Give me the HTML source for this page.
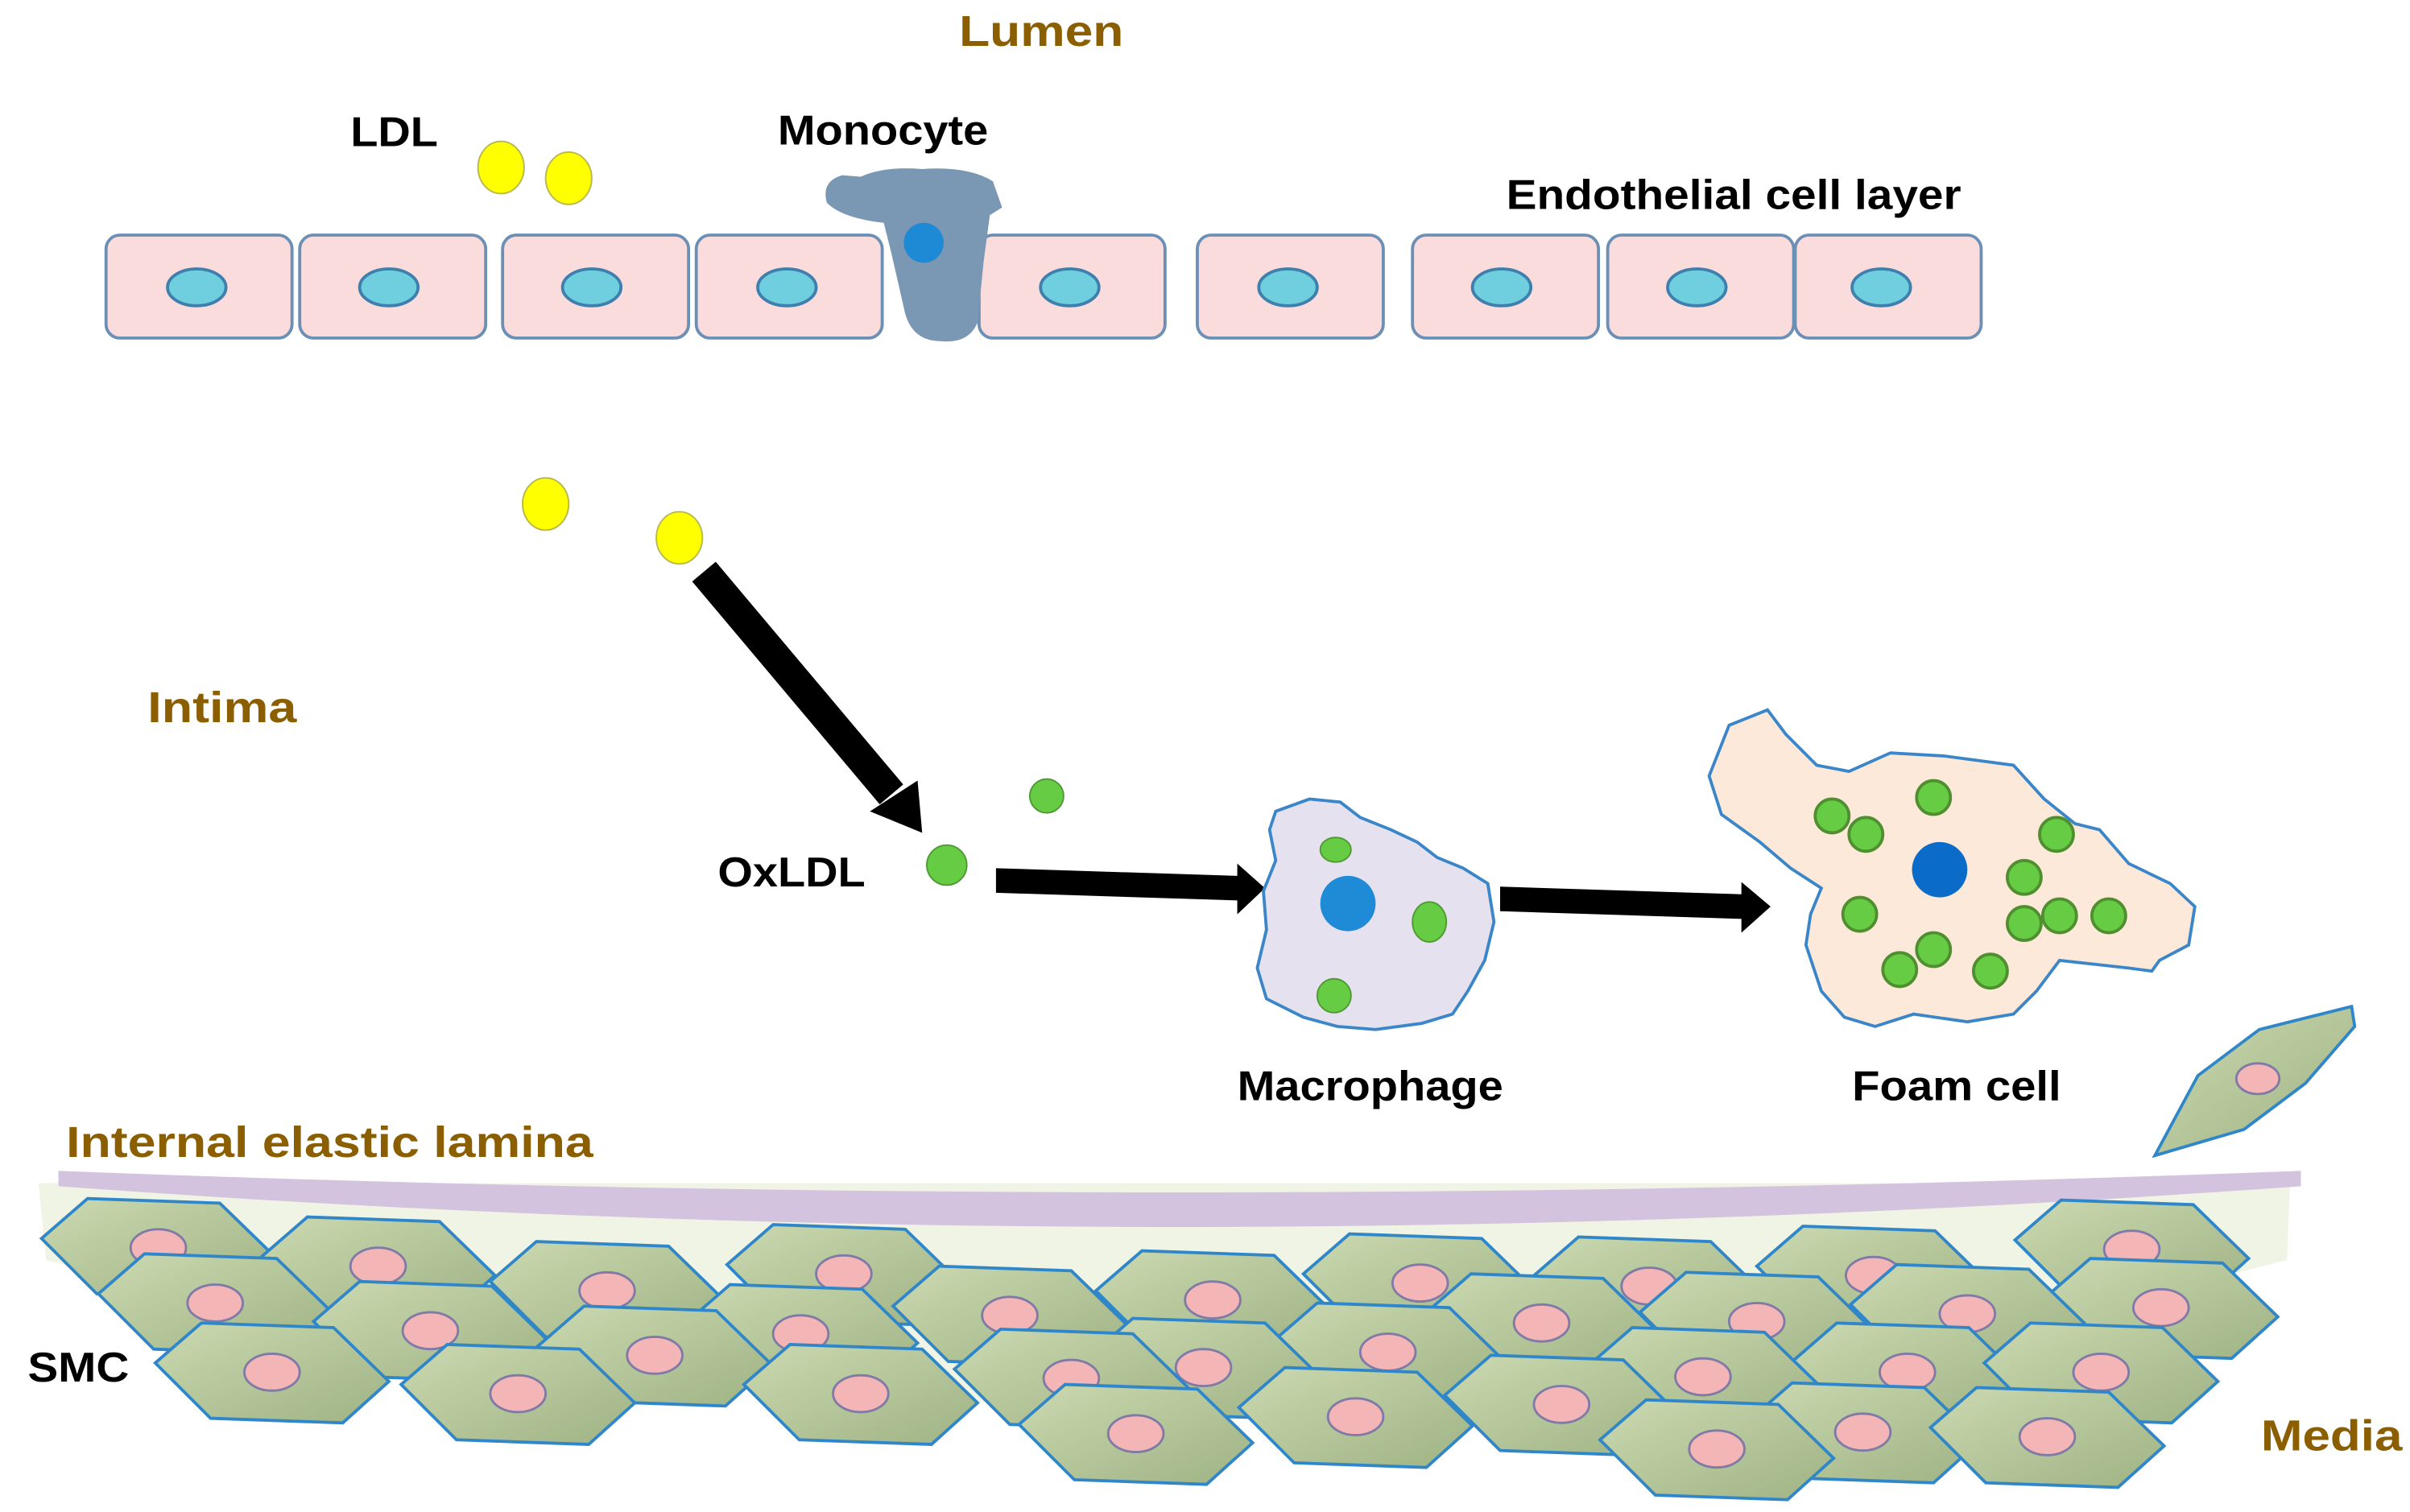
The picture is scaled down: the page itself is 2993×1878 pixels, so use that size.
<!DOCTYPE html>
<html><head><meta charset="utf-8"><style>
html,body{margin:0;padding:0;background:#fff;}
svg{display:block;}
text{font-family:"Liberation Sans",Arial,sans-serif;font-weight:bold;}
</style></head><body>
<svg width="2993" height="1878" viewBox="0 0 1568 984" preserveAspectRatio="none" xmlns="http://www.w3.org/2000/svg">
<defs>
<linearGradient id="smcg" x1="0" y1="0" x2="1" y2="1">
<stop offset="0" stop-color="#cbd9b0"/><stop offset="1" stop-color="#9fb384"/></linearGradient>
<g id="smc">
<polygon points="-76,-6 -46,-32 40,-29 76,6 46,33 -40,30" fill="url(#smcg)" stroke="#2f86c8" stroke-width="2"/>
<ellipse cx="0" cy="0" rx="18" ry="12" fill="#f4b5b7" stroke="#7f7aa6" stroke-width="1.5"/>
</g>
<g id="endo"><rect x="0" y="0" width="121" height="67" rx="9" fill="#fbdcdc" stroke="#6b8fb5" stroke-width="2"/></g>
</defs>

<path d="M25,770 L1490,770 L1488,820 Q760,1010 30,820 Z" fill="#eff4e4"/>

<g>
<use href="#endo" x="69" y="153"/><use href="#endo" x="195" y="153"/><use href="#endo" x="327" y="153"/>
<use href="#endo" x="453" y="153"/><use href="#endo" x="637" y="153"/><use href="#endo" x="779" y="153"/>
<use href="#endo" x="919" y="153"/><use href="#endo" x="1046" y="153"/><use href="#endo" x="1168" y="153"/>
</g>
<g fill="#6fcfdf" stroke="#3f7fae" stroke-width="2">
<ellipse cx="128" cy="187" rx="19" ry="12"/><ellipse cx="253" cy="187" rx="19" ry="12"/>
<ellipse cx="385" cy="187" rx="19" ry="12"/><ellipse cx="512" cy="187" rx="19" ry="12"/>
<ellipse cx="696" cy="187" rx="19" ry="12"/><ellipse cx="838" cy="187" rx="19" ry="12"/>
<ellipse cx="977" cy="187" rx="19" ry="12"/><ellipse cx="1104" cy="187" rx="19" ry="12"/>
<ellipse cx="1224" cy="187" rx="19" ry="12"/>
</g>

<path d="M560,115 Q575,108 600,110 Q630,108 646,118 L652,135 L644,140 L640,170 L636,210 Q630,224 612,222 Q592,222 588,200 L580,165 L575,145 Q548,142 538,132 Q534,118 548,114 Z" fill="#7a97b3"/>
<ellipse cx="601" cy="158" rx="13" ry="13" fill="#1e8ad6"/>

<g fill="#ffff00" stroke="#b8b850" stroke-width="1">
<ellipse cx="326" cy="109" rx="15" ry="17"/><ellipse cx="370" cy="116" rx="15" ry="17"/>
<ellipse cx="355" cy="328" rx="15" ry="17"/><ellipse cx="442" cy="350" rx="15" ry="17"/>
</g>

<line x1="458" y1="372" x2="580" y2="517" stroke="#000" stroke-width="20"/>
<polygon points="566,528 600,542 597,508" fill="#000"/>
<polygon points="648,565 805,570 805,562 823,578 805,595 805,586 648,581" fill="#000"/>
<polygon points="976,577 1133,582 1133,574 1152,590 1133,607 1133,598 976,593" fill="#000"/>

<circle cx="681" cy="518" r="11" fill="#66cc44" stroke="#4f9a34" stroke-width="1"/>
<circle cx="616" cy="563" r="13" fill="#66cc44" stroke="#4f9a34" stroke-width="1"/>

<path d="M830,528 L852,520 L872,522 L885,532 L905,540 L922,548 L935,558 L952,565 L968,575 L972,600 L966,625 L955,645 L945,660 L925,666 L895,670 L870,668 L848,662 L824,650 L818,630 L824,605 L822,580 L830,560 L826,540 Z" fill="#e6e1ef" stroke="#3a86c8" stroke-width="2"/>
<circle cx="877" cy="588" r="18" fill="#1f8ad6"/>
<g fill="#66cc44" stroke="#4f9a34" stroke-width="1">
<ellipse cx="869" cy="553" rx="10" ry="8"/><ellipse cx="930" cy="600" rx="11" ry="13"/><ellipse cx="868" cy="648" rx="11" ry="11"/>
</g>

<path d="M1125,472 L1150,462 L1162,478 L1182,498 L1203,502 L1230,490 L1265,492 L1310,498 L1330,520 L1350,536 L1366,540 L1385,562 L1412,575 L1428,590 L1424,615 L1405,625 L1400,632 L1385,630 L1340,625 L1325,645 L1310,660 L1280,665 L1245,660 L1220,668 L1200,662 L1185,645 L1175,615 L1178,595 L1185,578 L1165,565 L1145,548 L1120,530 L1112,505 Z" fill="#fde9da" stroke="#3a86c8" stroke-width="2"/>
<circle cx="1262" cy="566" r="18" fill="#0a6cc8"/>
<g fill="#66cc44" stroke="#4f8f30" stroke-width="2">
<circle cx="1192" cy="531" r="11"/><circle cx="1214" cy="543" r="11"/><circle cx="1258" cy="519" r="11"/>
<circle cx="1338" cy="543" r="11"/><circle cx="1210" cy="595" r="11"/><circle cx="1317" cy="571" r="11"/>
<circle cx="1317" cy="601" r="11"/><circle cx="1340" cy="596" r="11"/><circle cx="1372" cy="596" r="11"/>
<circle cx="1236" cy="631" r="11"/><circle cx="1258" cy="618" r="11"/><circle cx="1295" cy="632" r="11"/>
</g>

<path d="M1402,752 L1430,700 L1470,670 L1530,655 L1532,668 L1500,705 L1460,735 Z" fill="url(#smcg)" stroke="#2f86c8" stroke-width="2"/>
<ellipse cx="1469" cy="702" rx="14" ry="10" fill="#f4b5b7" stroke="#7f7aa6" stroke-width="1.5"/>

<path d="M38,762 Q760,790 1497,762 L1497,772 Q760,825 38,772 Z" fill="#d3c3de"/>

<g>
<use href="#smc" transform="translate(103,812)"/>
<use href="#smc" transform="translate(246,824)"/>
<use href="#smc" transform="translate(549,829)"/>
<use href="#smc" transform="translate(1387,813)"/>
<use href="#smc" transform="translate(1219,830)"/>
<use href="#smc" transform="translate(924,835)"/>
<use href="#smc" transform="translate(1073,837)"/>
<use href="#smc" transform="translate(789,846)"/>
<use href="#smc" transform="translate(140,848)"/>
<use href="#smc" transform="translate(395,840)"/>
<use href="#smc" transform="translate(1406,851)"/>
<use href="#smc" transform="translate(1280,855)"/>
<use href="#smc" transform="translate(657,856)"/>
<use href="#smc" transform="translate(1143,860)"/>
<use href="#smc" transform="translate(1003,861)"/>
<use href="#smc" transform="translate(280,866)"/>
<use href="#smc" transform="translate(521,868)"/>
<use href="#smc" transform="translate(903,880)"/>
<use href="#smc" transform="translate(426,882)"/>
<use href="#smc" transform="translate(783,890)"/>
<use href="#smc" transform="translate(177,893)"/>
<use href="#smc" transform="translate(1241,893)"/>
<use href="#smc" transform="translate(1367,893)"/>
<use href="#smc" transform="translate(1108,896)"/>
<use href="#smc" transform="translate(697,897)"/>
<use href="#smc" transform="translate(337,907)"/>
<use href="#smc" transform="translate(560,907)"/>
<use href="#smc" transform="translate(1016,914)"/>
<use href="#smc" transform="translate(882,922)"/>
<use href="#smc" transform="translate(1212,932)"/>
<use href="#smc" transform="translate(739,933)"/>
<use href="#smc" transform="translate(1332,935)"/>
<use href="#smc" transform="translate(1117,943)"/>
</g>

<g font-size="28" fill="#8b5e00" lengthAdjust="spacingAndGlyphs">
<text x="624" y="30" textLength="107" lengthAdjust="spacingAndGlyphs">Lumen</text>
<text x="96" y="470" textLength="97" lengthAdjust="spacingAndGlyphs">Intima</text>
<text x="43" y="753" textLength="343" lengthAdjust="spacingAndGlyphs">Internal elastic lamina</text>
<text x="1471" y="944" textLength="92" lengthAdjust="spacingAndGlyphs">Media</text>
</g>
<g font-size="27" fill="#000">
<text x="228" y="95" textLength="57" lengthAdjust="spacingAndGlyphs">LDL</text>
<text x="506" y="94" textLength="137" lengthAdjust="spacingAndGlyphs">Monocyte</text>
<text x="980" y="136" textLength="296" lengthAdjust="spacingAndGlyphs">Endothelial cell layer</text>
<text x="467" y="577" textLength="96" lengthAdjust="spacingAndGlyphs">OxLDL</text>
<text x="805" y="716" textLength="173" lengthAdjust="spacingAndGlyphs">Macrophage</text>
<text x="1205" y="716" textLength="136" lengthAdjust="spacingAndGlyphs">Foam cell</text>
<text x="18" y="899" textLength="66" lengthAdjust="spacingAndGlyphs">SMC</text>
</g>
</svg>
</body></html>
